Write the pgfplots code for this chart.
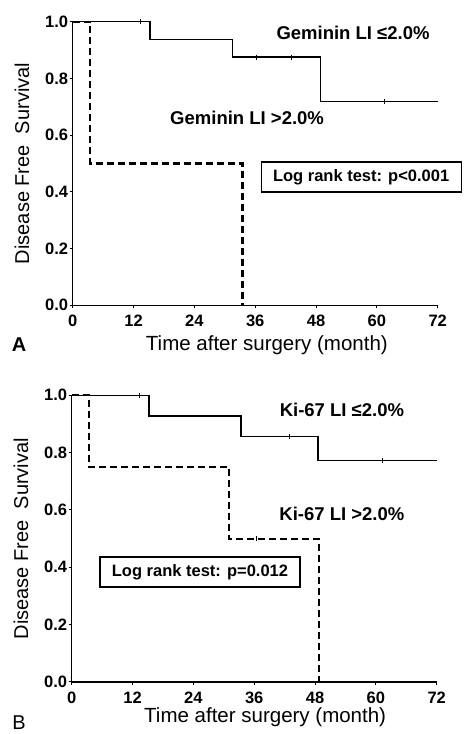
\documentclass[border=0pt]{standalone}
\usepackage{pgfplots}
\pgfplotsset{compat=1.18}
\usepackage{fontspec}
\setmainfont{Liberation Sans}
\begin{document}
\begin{tikzpicture}[x=1pt,y=1pt]
\useasboundingbox (0,0) rectangle (464,734);
\pgfplotsset{
  km/.style={
    scale only axis, width=365pt,
    xmin=0, xmax=72, ymin=0, ymax=1,
    axis x line*=bottom, axis y line*=left,
    axis line style={line width=1.3pt},
    xtick={0,12,24,36,48,60,72},
    xticklabels={0,12,24,36,48,60,72},
    ytick={0,0.2,0.4,0.6,0.8,1.0},
    yticklabels={0.0,0.2,0.4,0.6,0.8,1.0},
    tick align=outside, major tick length=3pt,
    tick style={line width=1pt, black},
    ticklabel style={font=\bfseries\fontsize{16.5}{16.5}\selectfont},
    xticklabel style={yshift=-3pt},
    yticklabel style={xshift=2pt},
    ylabel={Disease Free\ \ Survival},
    xlabel={Time after surgery (month)},
    ylabel style={at={(rel axis cs:-0.139,0.5)}, anchor=center, rotate=0,
      font=\fontsize{20}{20}\selectfont},
    clip=false,
  },
  surv/.style={const plot, black, line width=1.5pt, mark=none},
  dsurv/.style={const plot, black, line width=2.2pt, dash pattern=on 7pt off 4pt, mark=none},
  cens/.style={only marks, mark=|, mark size=2.5pt, mark options={line width=1pt, black}},
}
% ---------- Panel A ----------
\begin{axis}[km, height=283.6pt, at={(72.7pt,428.7pt)}, anchor=south west,
  xlabel style={at={(rel axis cs:0.532,0)}, anchor=center, yshift=-40pt,
    font=\fontsize{20.5}{20.5}\selectfont}]
\addplot[surv] coordinates {(0,1) (15.2,0.938) (31.5,0.875) (48.9,0.718) (72,0.718)};
\addplot[dsurv] coordinates {(0,1) (3.4,0.5) (33.5,0)};
\addplot[cens] coordinates {(13.3,1) (36.3,0.875) (43.2,0.875) (61.6,0.718)};
\node[font=\bfseries\fontsize{18.5}{18.5}\selectfont] at (axis cs:55.3,0.96) {Geminin LI ≤2.0\%};
\node[font=\bfseries\fontsize{18.5}{18.5}\selectfont] at (axis cs:34.4,0.66) {Geminin LI >2.0\%};
\node[draw, line width=1.3pt, minimum width=200pt, minimum height=30pt, inner sep=2pt,
  font=\bfseries\fontsize{16.5}{16.5}\selectfont] at (axis cs:56.9,0.452) {Log rank test: p<0.001};
\end{axis}
\node[font=\bfseries\fontsize{20}{20}\selectfont] at (19,389) {A};
% ---------- Panel B ----------
\begin{axis}[km, height=286.7pt, at={(71.7pt,52pt)}, anchor=south west,
  xlabel style={at={(rel axis cs:0.53,0)}, anchor=center, yshift=-35pt,
    font=\fontsize{20.5}{20.5}\selectfont}]
\addplot[surv] coordinates {(0,1) (15.2,0.928) (33.4,0.857) (48.6,0.772) (72,0.772)};
\addplot[dsurv] coordinates {(0,1) (3.4,0.75) (31.1,0.5) (48.8,0)};
\addplot[cens] coordinates {(13.3,1) (43,0.857) (61.4,0.772)};
\addplot[cens] coordinates {(36.5,0.5)};
\node[font=\bfseries\fontsize{18.5}{18.5}\selectfont] at (axis cs:53.3,0.949) {Ki-67 LI ≤2.0\%};
\node[font=\bfseries\fontsize{18.5}{18.5}\selectfont] at (axis cs:53.3,0.586) {Ki-67 LI >2.0\%};
\node[draw, line width=1.3pt, minimum width=200pt, minimum height=30pt, inner sep=2pt,
  font=\bfseries\fontsize{16.5}{16.5}\selectfont] at (axis cs:25.3,0.384) {Log rank test: p=0.012};
\end{axis}
\node[font=\fontsize{20}{20}\selectfont] at (19,11) {B};
\end{tikzpicture}
\end{document}
